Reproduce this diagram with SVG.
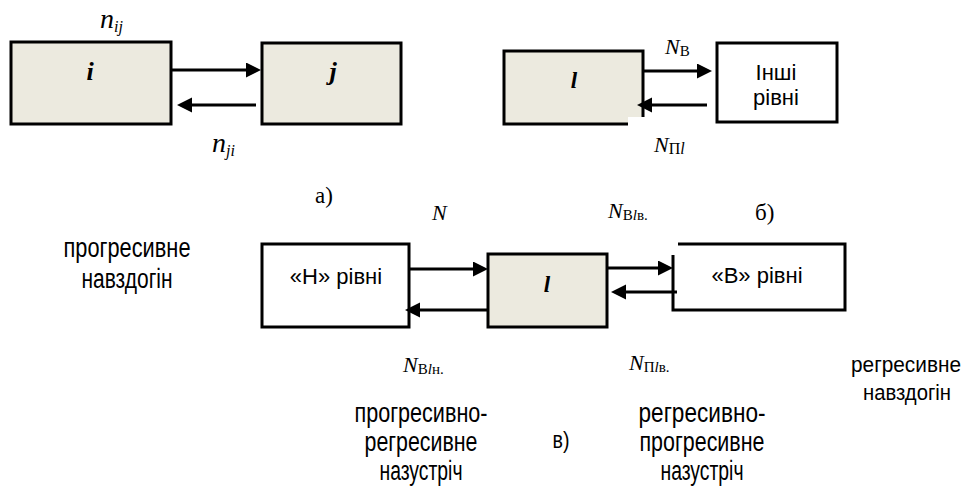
<svg xmlns="http://www.w3.org/2000/svg" width="968" height="486" viewBox="0 0 968 486">
<style>
.box{stroke:#000;stroke-width:3;fill:none}
.sh{fill:#ECEADF}
.wh{fill:#fff}
.ln{stroke:#000;stroke-width:3;fill:none}
.bi{font-family:"Liberation Serif","Times New Roman",serif;font-style:italic;font-weight:bold;font-size:26px;text-anchor:middle}
.it{font-family:"Liberation Serif","Times New Roman",serif;font-style:italic;font-weight:normal}
.rm{font-family:"Liberation Serif","Times New Roman",serif;font-style:normal}
.sa{font-family:"Liberation Sans",Arial,sans-serif;font-size:22px;text-anchor:middle}
.nr{font-family:"Liberation Sans Narrow","Liberation Sans",Arial,sans-serif;font-size:27px;text-anchor:middle}
</style>
<defs>
<marker id="ah" markerUnits="userSpaceOnUse" markerWidth="16" markerHeight="16" refX="7" refY="7.5" orient="auto">
<path d="M0,0 L15,7.5 L0,15 z" fill="#000"/>
</marker>
</defs>
<rect width="968" height="486" fill="#fff"/>

<g id="node-i">
<rect class="sh" x="11" y="42" width="160" height="82"/>
<rect class="box" x="11" y="42" width="160" height="82"/>
<text class="bi" x="90" y="80">i</text>
</g>
<g id="node-j">
<rect class="sh" x="262" y="43" width="139" height="81"/>
<rect class="box" x="262" y="43" width="139" height="81"/>
<text class="bi" x="333" y="80">j</text>
</g>
<g id="node-l-b">
<path class="sh" d="M504,51 L643,51 L643,117 L628,117 L628,124 L504,124 Z"/>
<path class="box" d="M628,124 L504,124 L504,51 L643,51 L643,117"/>
<text class="bi" x="574" y="88" style="font-size:23px">l</text>
</g>
<g id="node-other">
<rect class="wh" x="717" y="43" width="120" height="79"/>
<rect class="box" x="717" y="43" width="120" height="79"/>
<text class="sa" x="776" y="80">Інші</text>
<text class="sa" x="776" y="105">рівні</text>
</g>
<g id="node-H">
<rect class="wh" x="262" y="244" width="147" height="83"/>
<rect class="box" x="262" y="244" width="147" height="83"/>
<text class="sa" x="336" y="284">«Н» рівні</text>
</g>
<g id="node-l-c">
<rect class="sh" x="488" y="254" width="119" height="73"/>
<rect class="box" x="488" y="254" width="119" height="73"/>
<text class="bi" x="547" y="292" style="font-size:23px">l</text>
</g>
<g id="node-B">
<rect class="wh" x="673" y="244" width="172" height="66"/>
<path class="box" d="M678,244 L845,244 L845,310 L673,310 L673,255"/>
<text class="sa" x="757" y="283">«В» рівні</text>
</g>

<g id="connectors">
<line class="ln" x1="171" y1="70" x2="253" y2="70" marker-end="url(#ah)"/>
<line class="ln" x1="256" y1="105" x2="185" y2="105" marker-end="url(#ah)"/>
<line class="ln" x1="643" y1="71" x2="704" y2="71" marker-end="url(#ah)"/>
<line class="ln" x1="707" y1="105" x2="645" y2="105" marker-end="url(#ah)"/>
<line class="ln" x1="409" y1="269" x2="480" y2="269" marker-end="url(#ah)"/>
<line class="ln" x1="488" y1="310" x2="413" y2="310" marker-end="url(#ah)"/>
<line class="ln" x1="607" y1="268" x2="665" y2="268" marker-end="url(#ah)"/>
<line class="ln" x1="677" y1="292" x2="619" y2="292" marker-end="url(#ah)"/>
</g>

<g id="labels">
<text class="it" x="100" y="28" style="font-size:28px">n<tspan dy="4" style="font-size:16px">ij</tspan></text>
<text class="it" x="212" y="152" style="font-size:28px">n<tspan dy="4" style="font-size:16px">ji</tspan></text>
<text class="it" x="665" y="54" style="font-size:22px">N<tspan class="rm" dy="2" style="font-size:15px">В</tspan></text>
<text class="it" x="654" y="152" style="font-size:22px">N<tspan class="rm" dy="2" style="font-size:16px">П</tspan><tspan style="font-size:16px">l</tspan></text>
<text class="it" x="432" y="220" style="font-size:22px">N</text>
<text class="it" x="608" y="218" style="font-size:22px">N<tspan class="rm" dy="2" style="font-size:15px">В</tspan><tspan style="font-size:15px">l</tspan><tspan class="rm" style="font-size:15px">в.</tspan></text>
<text class="it" x="403" y="372" style="font-size:22px">N<tspan class="rm" dy="2" style="font-size:15px">В</tspan><tspan style="font-size:15px">l</tspan><tspan class="rm" style="font-size:15px">н.</tspan></text>
<text class="it" x="629" y="370" style="font-size:22px">N<tspan class="rm" dy="2" style="font-size:15px">П</tspan><tspan style="font-size:15px">l</tspan><tspan class="rm" style="font-size:15px">в.</tspan></text>
<text class="rm" x="315" y="203" style="font-size:23px">а)</text>
<text class="rm" x="755" y="220" style="font-size:23px">б)</text>
<text class="nr" x="561" y="448" style="font-size:24px" textLength="17" lengthAdjust="spacingAndGlyphs">в)</text>
<text class="nr" x="127" y="257" textLength="127" lengthAdjust="spacingAndGlyphs">прогресивне</text>
<text class="nr" x="127" y="288" textLength="91" lengthAdjust="spacingAndGlyphs">навздогін</text>
<text class="nr" x="906" y="372" style="font-size:22px" textLength="110" lengthAdjust="spacingAndGlyphs">регресивне</text>
<text class="nr" x="907" y="400" style="font-size:22px" textLength="88" lengthAdjust="spacingAndGlyphs">навздогін</text>
<text class="nr" x="421" y="422" textLength="133" lengthAdjust="spacingAndGlyphs">прогресивно-</text>
<text class="nr" x="421" y="451" textLength="113" lengthAdjust="spacingAndGlyphs">регресивне</text>
<text class="nr" x="421" y="480" textLength="83" lengthAdjust="spacingAndGlyphs">назустріч</text>
<text class="nr" x="702" y="422" textLength="127" lengthAdjust="spacingAndGlyphs">регресивно-</text>
<text class="nr" x="702" y="451" textLength="125" lengthAdjust="spacingAndGlyphs">прогресивне</text>
<text class="nr" x="702" y="480" textLength="83" lengthAdjust="spacingAndGlyphs">назустріч</text>
</g>
</svg>
